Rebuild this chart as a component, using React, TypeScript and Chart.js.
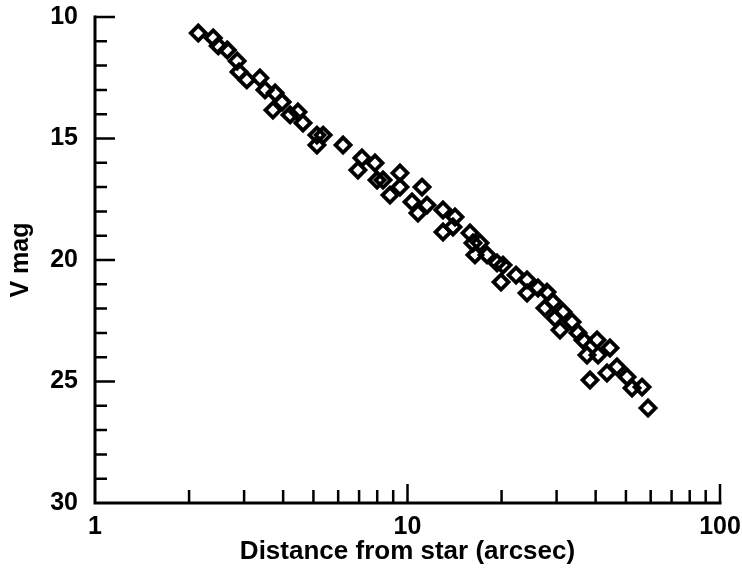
import React, { useEffect, useRef } from "react";
import { Chart, registerables } from "chart.js";

Chart.register(...registerables);

// Distance from star (arcsec)
const distance: number[] = [
  2.14, 2.39, 2.48, 2.65, 2.85, 2.89, 3.06, 3.37, 3.5, 3.77,
  3.97, 3.71, 4.21, 4.46, 4.63, 5.13, 5.13, 5.37, 6.22, 6.94,
  7.15, 7.87, 7.99, 8.35, 8.79, 9.46, 9.46, 10.34, 10.8, 11.13,
  11.54, 12.99, 12.99, 14.19, 13.98, 15.85, 16.44, 16.2, 17.97, 19.34,
  17.06, 20.21, 19.92, 22.25, 24.13, 24.13, 26.16, 27.54, 27.95, 29.21,
  29.65, 31.45, 30.76, 33.61, 35.13, 36.44, 37.53, 40.41, 40.71, 44.46,
  38.37, 43.49, 46.81, 50.4, 52.29, 56.3, 58.84,
];
// V magnitude
const vmag: number[] = [
  10.66, 10.86, 11.19, 11.36, 11.81, 12.26, 12.59, 12.51, 13.0, 13.13,
  13.5, 13.83, 14.03, 13.91, 14.36, 14.86, 15.27, 14.86, 15.27, 16.3,
  15.8, 16.01, 16.71, 16.71, 17.33, 16.42, 17.0, 17.61, 18.07, 17.0,
  17.74, 17.94, 18.85, 18.23, 18.64, 18.89, 19.79, 19.3, 19.79, 20.12,
  19.3, 20.21, 20.91, 20.62, 20.82, 21.36, 21.15, 21.98, 21.32, 21.73,
  22.39, 22.14, 22.88, 22.55, 23.0, 23.29, 23.91, 23.29, 23.91, 23.62,
  24.94, 24.65, 24.4, 24.81, 25.27, 25.23, 26.09,
];

const xLabelValues: number[] = [1, 10, 100];
const xMajorTicks: number[] = [10, 100];
const xMinorTicks: number[] = [2, 3, 4, 5, 6, 7, 8, 9, 20, 30, 40, 50, 60, 70, 80, 90];
const yMajorTicks: number[] = [10, 15, 20, 25];
const yMinorTicks: number[] = [11, 12, 13, 14, 16, 17, 18, 19, 21, 22, 23, 24, 26, 27, 28, 29];

const FONT = "'Liberation Sans', Arial, Helvetica, sans-serif";

const axesPlugin = {
  id: "inwardAxes",
  afterDraw(chart: any) {
    const ctx = chart.ctx;
    const x = chart.scales.x;
    const y = chart.scales.y;
    const { left, bottom, top, right } = chart.chartArea;
    ctx.save();
    ctx.strokeStyle = "#000";
    ctx.lineWidth = 3;
    ctx.lineCap = "square";
    ctx.beginPath();
    ctx.moveTo(left, top);
    ctx.lineTo(left, bottom);
    ctx.lineTo(right, bottom);
    ctx.stroke();
    ctx.lineCap = "butt";
    ctx.lineWidth = 2.5;
    ctx.beginPath();
    yMajorTicks.forEach((v) => {
      const py = y.getPixelForValue(v);
      ctx.moveTo(left, py);
      ctx.lineTo(left + 20, py);
    });
    yMinorTicks.forEach((v) => {
      const py = y.getPixelForValue(v);
      ctx.moveTo(left, py);
      ctx.lineTo(left + 12, py);
    });
    xMajorTicks.forEach((v) => {
      const px = x.getPixelForValue(v);
      ctx.moveTo(px, bottom);
      ctx.lineTo(px, bottom - 19);
    });
    xMinorTicks.forEach((v) => {
      const px = x.getPixelForValue(v);
      ctx.moveTo(px, bottom);
      ctx.lineTo(px, bottom - 13);
    });
    ctx.stroke();
    ctx.restore();
  },
};

export default function App() {
  const ref = useRef<HTMLCanvasElement | null>(null);
  useEffect(() => {
    document.body.style.margin = "0";
    document.body.style.background = "#fff";
    if (!ref.current) return;
    const chart = new Chart(ref.current, {
      type: "scatter",
      data: {
        datasets: [
          {
            data: distance.map((d, i) => ({ x: d, y: vmag[i] })),
            pointStyle: "rectRot",
            radius: 7.5,
            borderWidth: 3.8,
            borderColor: "#000",
            backgroundColor: "rgba(0,0,0,0)",
          },
        ],
      },
      options: {
        animation: false,
        responsive: false,
        maintainAspectRatio: false,
        layout: { autoPadding: false, padding: { top: 17, right: 22, left: 0, bottom: 0 } },
        plugins: { legend: { display: false }, tooltip: { enabled: false } },
        scales: {
          x: {
            type: "logarithmic",
            min: 1,
            max: 100,
            border: { display: false },
            grid: { display: false, drawTicks: false },
            afterFit: (s: any) => {
              s.height = 74;
              s.paddingLeft = 0;
              s.paddingRight = 0;
            },
            afterBuildTicks: (s: any) => {
              s.ticks = xLabelValues.map((v) => ({ value: v }));
            },
            ticks: {
              autoSkip: false,
              maxRotation: 0,
              padding: 9,
              color: "#000",
              font: { family: FONT, size: 25, weight: "bold" },
              callback: (v: any) => String(v),
            },
            title: {
              display: true,
              text: "Distance from star (arcsec)",
              color: "#000",
              font: { family: FONT, size: 26, weight: "bold" },
              padding: { top: 0, bottom: 10 },
            },
          },
          y: {
            type: "linear",
            reverse: true,
            min: 10,
            max: 30,
            border: { display: false },
            grid: { display: false, drawTicks: false },
            afterFit: (s: any) => {
              s.width = 95;
              s.paddingTop = 0;
              s.paddingBottom = 0;
            },
            ticks: {
              stepSize: 5,
              padding: 17,
              color: "#000",
              font: { family: FONT, size: 25, weight: "bold" },
            },
            title: {
              display: true,
              text: "V mag",
              color: "#000",
              font: { family: FONT, size: 25, weight: "bold" },
              padding: { top: 6, bottom: 0 },
            },
          },
        },
      },
      plugins: [axesPlugin],
    } as any);
    return () => chart.destroy();
  }, []);
  return (
    <div style={{ position: "absolute", left: 0, top: 0, width: 742, height: 577, background: "#fff" }}>
      <canvas ref={ref} width={742} height={577} style={{ width: 742, height: 577 }} />
    </div>
  );
}
